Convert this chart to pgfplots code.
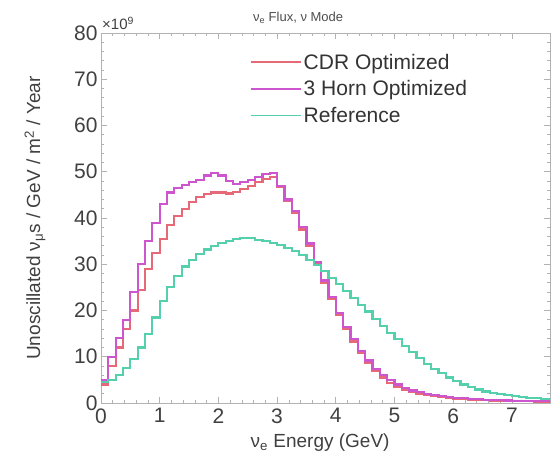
\documentclass[border=0pt]{standalone}
\usepackage{fontspec}
\setmainfont{Liberation Sans}
\usepackage{pgfplots}
\usepackage{pgfplotstable}
\pgfplotsset{compat=1.18}
\definecolor{cdr}{RGB}{230,105,120}
\definecolor{horn}{RGB}{205,85,205}
\definecolor{refc}{RGB}{85,208,172}
\pgfplotstableread{
E cdr horn ref
0.000 4.0 5.0 4.5
0.125 8.0 10.0 5.0
0.250 12.0 14.0 6.0
0.375 16.0 18.0 7.5
0.500 20.0 24.0 9.5
0.625 24.5 30.0 12.0
0.750 29.0 35.0 15.0
0.875 32.5 39.0 18.5
1.000 35.5 43.0 22.0
1.125 38.5 45.5 25.0
1.250 40.5 46.5 27.5
1.375 42.0 47.2 29.5
1.500 43.5 47.8 31.0
1.625 44.5 48.2 32.2
1.750 45.2 49.2 33.2
1.875 45.5 49.8 34.0
2.000 45.5 49.2 34.6
2.125 45.3 48.0 35.0
2.250 45.7 47.4 35.4
2.375 46.2 47.8 35.6
2.500 47.0 48.3 35.6
2.625 47.8 48.8 35.3
2.750 48.5 49.5 35.0
2.875 48.8 49.8 34.6
3.000 46.8 47.0 34.1
3.125 43.8 44.0 33.5
3.250 41.0 41.5 32.8
3.375 37.5 38.0 32.0
3.500 34.0 34.5 31.0
3.625 30.0 30.5 29.8
3.750 26.0 26.5 28.5
3.875 22.5 23.0 27.1
4.000 19.0 19.5 25.7
4.125 16.0 16.5 24.2
4.250 13.3 13.8 22.7
4.375 10.8 11.3 21.2
4.500 8.7 9.2 19.8
4.625 6.9 7.4 18.2
4.750 5.5 6.0 16.7
4.875 4.4 4.9 15.2
5.000 3.5 4.0 13.8
5.125 2.9 3.3 12.4
5.250 2.4 2.7 11.0
5.375 2.0 2.3 9.7
5.500 1.7 2.0 8.5
5.625 1.45 1.7 7.4
5.750 1.25 1.5 6.4
5.875 1.1 1.3 5.5
6.000 0.95 1.15 4.7
6.125 0.85 1.0 4.0
6.250 0.75 0.9 3.4
6.375 0.68 0.8 2.9
6.500 0.6 0.7 2.5
6.625 0.55 0.65 2.2
6.750 0.5 0.6 1.9
6.875 0.46 0.55 1.7
7.000 0.42 0.5 1.5
7.125 0.39 0.45 1.3
7.250 0.36 0.42 1.15
7.375 0.34 0.4 1.0
7.500 0.32 0.38 0.9
7.625 0.3 0.36 0.8
7.750 0.3 0.36 0.8
}\fluxdata
\begin{document}
\begin{tikzpicture}
\begin{axis}[
  scale only axis,
  width=449pt, height=370pt,
  xmin=0, xmax=7.65, ymin=0, ymax=80,
  xtick={0,1,...,7}, ytick={0,10,...,80},
  minor x tick num=4, minor y tick num=4,
  tick align=inside,
  major tick length=6pt, minor tick length=3pt,
  axis line style={gray!60, line width=0.6pt},
  every tick/.style={gray!60, line width=0.6pt},
  /pgf/number format/assume math mode=true,
  tick label style={font=\fontsize{21}{23}\selectfont, text=black!75},
  xticklabel style={yshift=-2pt},
  label style={font=\fontsize{19}{21}\selectfont, text=black!75},
  xlabel={ν\textsubscript{e} Energy (GeV)},
  ylabel={Unoscillated ν\textsubscript{μ}s / GeV / m\textsuperscript{2} / Year},
  xlabel style={at={(axis description cs:0.488,-0.108)}, anchor=center},
  ylabel style={at={(axis description cs:-0.147,0.5)}, anchor=center},
  legend style={draw=none, fill=none, at={(axis description cs:0.325,0.955)}, anchor=north west,
    font=\fontsize{21}{23}\selectfont, text=black!80, row sep=6pt,
    /tikz/every even column/.append style={column sep=4pt}},
  legend cell align=left,
  legend image code/.code={\draw[#1, line width=1.6pt] (0pt,0pt) -- (50pt,0pt);},
]
\addplot[const plot mark left, cdr, line width=2.2pt] table[x=E, y=cdr] {\fluxdata};
\addlegendentry{CDR Optimized}
\addplot[const plot mark left, horn, line width=2.2pt] table[x=E, y=horn] {\fluxdata};
\addlegendentry{3 Horn Optimized}
\addplot[const plot mark left, refc, line width=2.2pt] table[x=E, y=ref] {\fluxdata};
\addlegendentry{Reference}
\coordinate (SW) at (rel axis cs:0,0);
\coordinate (NE) at (rel axis cs:1,1);
\coordinate (TL) at (rel axis cs:0,1);
\coordinate (TT) at (axis description cs:0.439,1.04);
\end{axis}
\node[anchor=south west, font=\fontsize{15}{17}\selectfont, text=black!75, inner sep=0pt] at ([xshift=1pt,yshift=3pt]TL) {×10\textsuperscript{9}};
\node[anchor=center, font=\fontsize{13}{15}\selectfont, text=black!70] at (TT) {ν\textsubscript{e} Flux, ν Mode};
\pgfresetboundingbox
\path[use as bounding box] ([shift={(-101pt,-55pt)}]SW) rectangle ([shift={(10pt,33pt)}]NE);
\end{tikzpicture}
\end{document}
